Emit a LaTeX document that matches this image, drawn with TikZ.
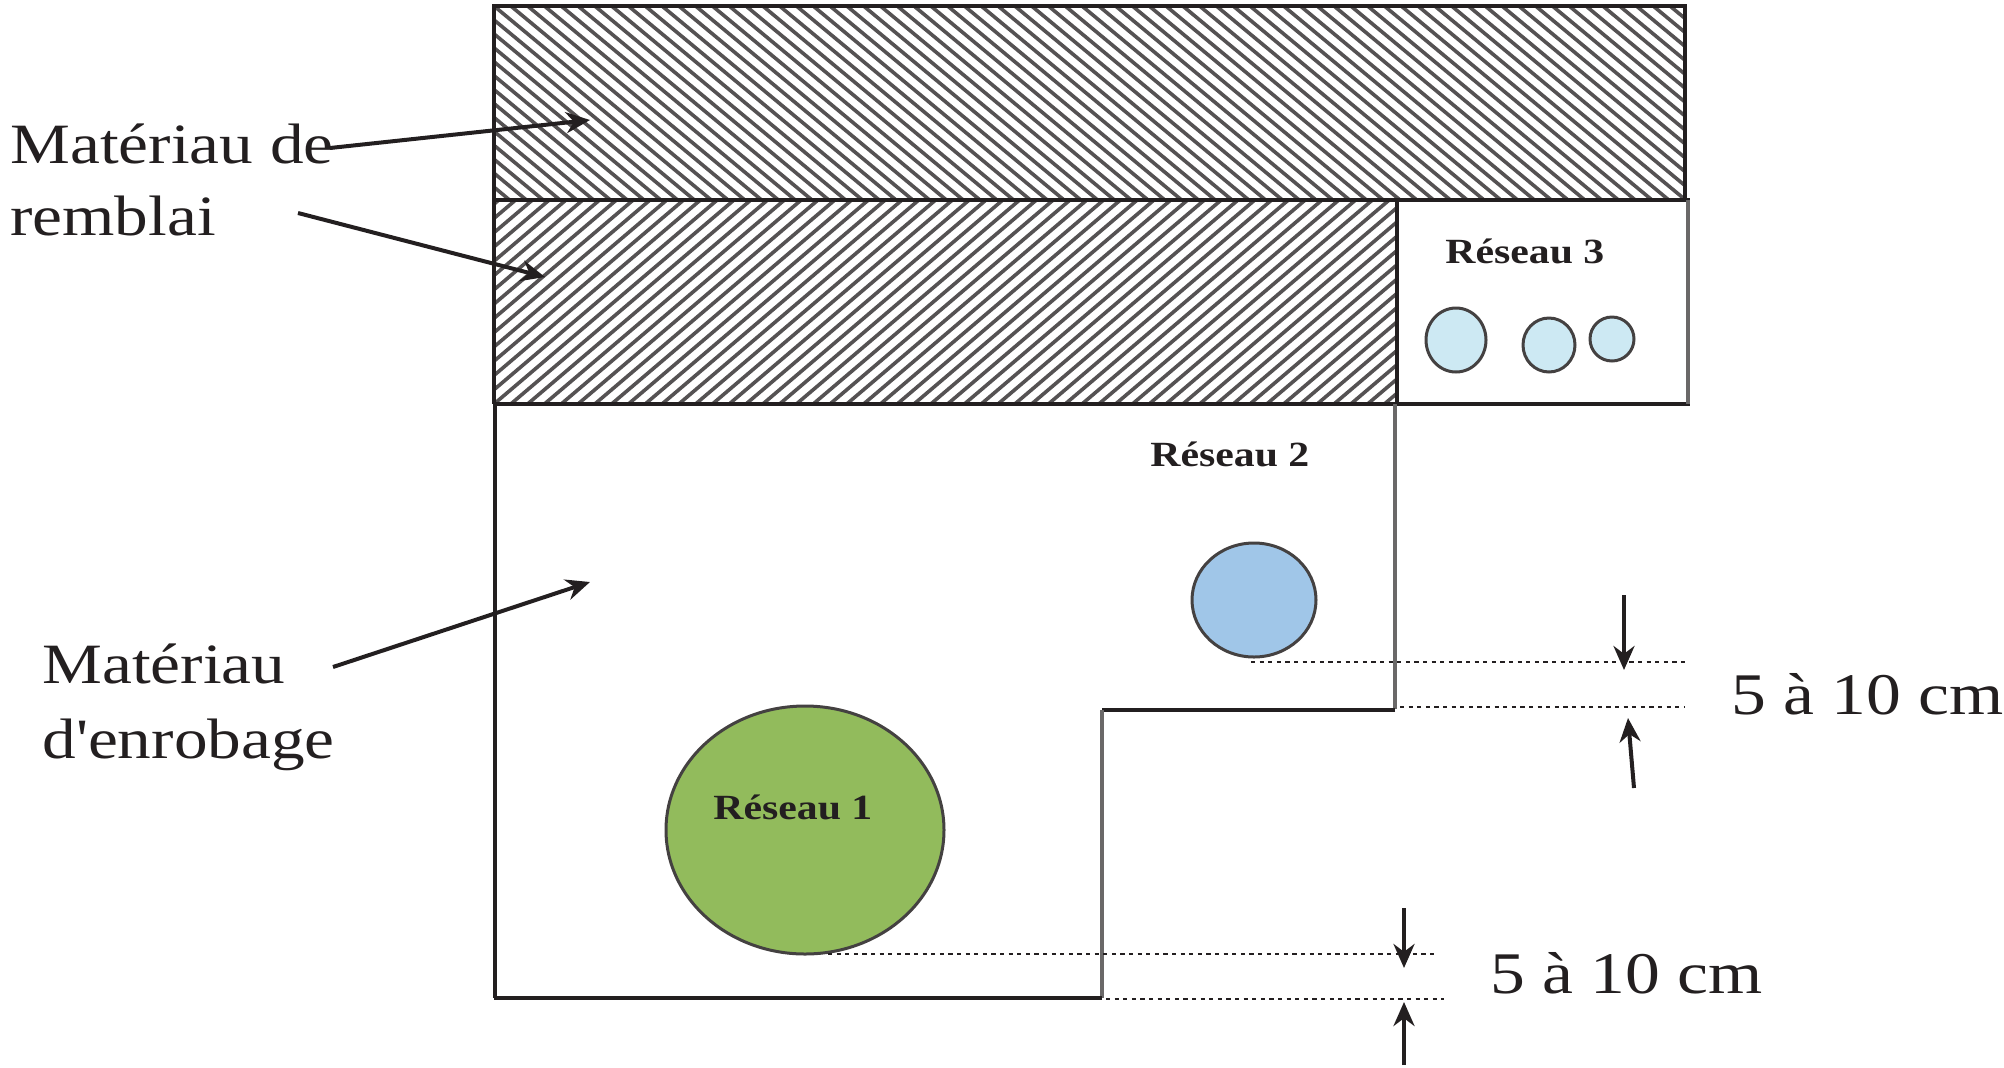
\documentclass[tikz,border=0pt]{standalone}
\usepackage{fontspec}
\usetikzlibrary{arrows.meta,shapes.geometric}
\setmainfont[FakeStretch=1.18]{Liberation Serif}
\newfontfamily\plainserif[FakeStretch=1.18]{Liberation Serif}
\definecolor{ink}{HTML}{231F20}
\definecolor{hatchc}{HTML}{555253}
\definecolor{greyline}{HTML}{6A6868}
\definecolor{greenfill}{HTML}{92BB5C}
\definecolor{bluefill}{HTML}{A0C6E8}
\definecolor{lightfill}{HTML}{CDE9F3}
\tikzset{
  wall/.style={draw=ink,line width=2pt},
  greywall/.style={draw=greyline,line width=2pt},
  hatchline/.style={draw=hatchc,line width=1.8pt},
  pipe/.style={ellipse,draw=ink!85,line width=1.5pt,inner sep=0pt,outer sep=0pt},
  arrowline/.style={draw=ink,line width=2pt,-{Stealth[length=12pt,width=10.5pt]}},
  dimline/.style={draw=ink,line width=1.4pt,dash pattern=on 2.1pt off 2.2pt},
  biglabel/.style={anchor=base west,inner sep=0pt,text=ink,font=\fontsize{28.5pt}{30pt}\selectfont},
  dimlabel/.style={anchor=base west,inner sep=0pt,text=ink,font=\fontsize{29.5pt}{31pt}\selectfont},
  netlabel/.style={anchor=base west,inner sep=0pt,text=ink,font=\fontsize{17.7pt}{20pt}\selectfont\bfseries},
}
\begin{document}
\begin{tikzpicture}[x=0.5pt,y=-0.5pt]
\useasboundingbox (0,0) rectangle (2004,1067);
% hatching
\begin{scope}
  \clip (494,6) rectangle (1685,200);
  \foreach \k in {-16,...,74}
    \draw[hatchline] ({494+16.8*\k},6) -- ({494+16.8*\k+234},200);
\end{scope}
\begin{scope}
  \clip (494,200) rectangle (1397,404);
  \foreach \k in {-16,...,56}
    \draw[hatchline] ({494+16.8*\k},404) -- ({494+16.8*\k+240},200);
\end{scope}
% walls
\draw[wall] (494,6) rectangle (1685,200);
\draw[wall] (494,200) -- (494,404);
\draw[wall] (1685,200) -- (1690,200);
\draw[wall] (494,404) -- (1690,404);
\draw[wall] (1397,200) -- (1397,404);
\draw[greywall] (1688,200) -- (1688,404);
\draw[greywall] (1395,404) -- (1395,709);
\draw[wall] (1395,710) -- (1102,710);
\draw[greywall] (1102,710) -- (1102,998);
\draw[wall] (1102,998) -- (494,998);
\draw[wall] (495,404) -- (495,998);
% pipes
\node[pipe,fill=greenfill,minimum width=139pt,minimum height=124pt] (r1pipe) at (805,830) {};
\node[pipe,fill=bluefill,minimum width=62pt,minimum height=57pt] (r2pipe) at (1254,600) {};
\node[pipe,fill=lightfill,minimum width=30pt,minimum height=32pt] (r3a) at (1456,340) {};
\node[pipe,fill=lightfill,minimum width=26pt,minimum height=27pt] (r3b) at (1549,345) {};
\node[pipe,fill=lightfill,minimum width=22pt,minimum height=22pt] (r3c) at (1612,339) {};
% labels
\node[biglabel] (mat1) at (10,163) {Matériau de};
\node[biglabel] (mat2) at (10,235) {remblai};
\node[biglabel] (enr1) at (42,683) {Matériau};
\node[biglabel] (enr2) at (42,758) {\plainserif d'enrobage};
\node[netlabel] (res1) at (713,819) {Réseau 1};
\node[netlabel] (res2) at (1150,466) {Réseau 2};
\node[netlabel] (res3) at (1445,263) {Réseau 3};
\node[dimlabel] (dimA) at (1731,714) {5 à 10 cm};
\node[dimlabel] (dimB) at (1490,993) {5 à 10 cm};
% leader coordinates
\coordinate (a1s) at (330,148); \coordinate (a1t) at (590,120);
\coordinate (a2s) at (298,213); \coordinate (a2t) at (545,277);
\coordinate (a3s) at (333,667); \coordinate (a3t) at (590,582);
\draw[arrowline] (a1s) -- (a1t);
\draw[arrowline] (a2s) -- (a2t);
\draw[arrowline] (a3s) -- (a3t);
% dimension lines
\coordinate (d1a) at (1251,662); \coordinate (d1b) at (1687,662);
\coordinate (d2a) at (1400,707); \coordinate (d2b) at (1685,707);
\coordinate (d3a) at (828,954); \coordinate (d3b) at (1436,954);
\coordinate (d4a) at (1106,999); \coordinate (d4b) at (1444,999);
\draw[dimline] (d1a) -- (d1b);
\draw[dimline] (d2a) -- (d2b);
\draw[dimline] (d3a) -- (d3b);
\draw[dimline] (d4a) -- (d4b);
\coordinate (e1s) at (1624,595); \coordinate (e1t) at (1624,670);
\coordinate (e2s) at (1634,788); \coordinate (e2t) at (1628,718);
\coordinate (e3s) at (1404,908); \coordinate (e3t) at (1404,968);
\coordinate (e4s) at (1404,1065); \coordinate (e4t) at (1404,1002);
\draw[arrowline] (e1s) -- (e1t);
\draw[arrowline] (e2s) -- (e2t);
\draw[arrowline] (e3s) -- (e3t);
\draw[arrowline] (e4s) -- (e4t);
\end{tikzpicture}
\end{document}
